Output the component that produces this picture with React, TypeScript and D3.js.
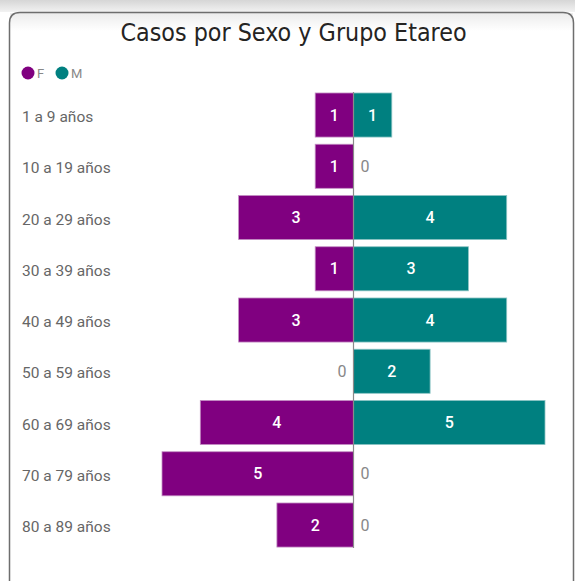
import React from "react";
import * as d3 from "d3";

const categories = [
  "1 a 9 años",
  "10 a 19 años",
  "20 a 29 años",
  "30 a 39 años",
  "40 a 49 años",
  "50 a 59 años",
  "60 a 69 años",
  "70 a 79 años",
  "80 a 89 años",
];
const femaleValues = [1, 1, 3, 1, 3, 0, 4, 5, 2];
const maleValues = [1, 0, 4, 3, 4, 2, 5, 0, 0];
const seriesNames = ["F", "M"];
const seriesColors = ["#800080", "#008080"];
const title = "Casos por Sexo y Grupo Etareo";

const W = 575;
const H = 581;
const CX = 353.5;

export default function App() {
  const x = d3.scaleLinear().domain([0, 5]).range([0, 191.5]);
  const y = d3
    .scaleBand<string>()
    .domain(categories)
    .range([89.4, 89.4 + 9 * 51.25])
    .paddingInner(0.14)
    .paddingOuter(0.07);
  const bh = y.bandwidth();
  const font = "Roboto, 'Noto Sans', sans-serif";

  return (
    <svg
      width={W}
      height={H}
      style={{ position: "absolute", left: 0, top: 0, background: "#fff" }}
    >
      <defs>
        <linearGradient id="topShade" x1="0" y1="0" x2="0" y2="1">
          <stop offset="0" stopColor="#d6d6d6" />
          <stop offset="1" stopColor="#f2f2f2" />
        </linearGradient>
        <linearGradient id="innerShade" x1="0" y1="0" x2="0" y2="1">
          <stop offset="0" stopColor="#ececec" />
          <stop offset="1" stopColor="#ffffff" />
        </linearGradient>
      </defs>
      <rect x={0} y={0} width={W} height={12} fill="url(#topShade)" />
      <rect x={10} y={13} width={W - 12} height={18} fill="url(#innerShade)" />
      <path
        d={`M9.5,${H + 2} L9.5,23 Q9.5,12.5 20,12.5 L563,12.5 Q573.5,12.5 573.5,23 L573.5,${H + 2}`}
        fill="none"
        stroke="#6e6e6e"
        strokeWidth={1.5}
      />
      <text
        x={293.5}
        y={41}
        textAnchor="middle"
        fontFamily="'DejaVu Sans Condensed', 'DejaVu Sans', sans-serif"
        fontSize={24.8}
        fill="#252423"
      >
        {title}
      </text>
      {seriesNames.map((s, i) => (
        <g key={s} transform={`translate(${i === 0 ? 28 : 62},73)`}>
          <circle cx={0} cy={0} r={6.5} fill={seriesColors[i]} />
          <text
            x={9}
            y={0}
            dominantBaseline="central"
            fontFamily={font}
            fontSize={13}
            fill="#888"
          >
            {s}
          </text>
        </g>
      ))}
      {categories.map((c, i) => {
        const yc = (y(c) as number) + bh / 2;
        const fv = femaleValues[i];
        const mv = maleValues[i];
        return (
          <g key={c}>
            <text
              x={22}
              y={yc + 2}
              dominantBaseline="central"
              fontFamily={font}
              fontSize={15.5}
              fill="#666"
            >
              {c}
            </text>
            {fv > 0 && (
              <rect
                x={CX - x(fv)}
                y={y(c)}
                width={x(fv)}
                height={bh}
                fill={seriesColors[0]}
                stroke="#c48fc4"
                strokeWidth={0.8}
              />
            )}
            {mv > 0 && (
              <rect
                x={CX}
                y={y(c)}
                width={x(mv)}
                height={bh}
                fill={seriesColors[1]}
                stroke="#8cc4c4"
                strokeWidth={0.8}
              />
            )}
            <text
              x={fv > 0 ? CX - x(fv) / 2 : CX - 7}
              y={yc}
              dominantBaseline="central"
              textAnchor={fv > 0 ? "middle" : "end"}
              fontFamily={font}
              fontWeight={fv > 0 ? 500 : 400}
              fontSize={16}
              fill={fv > 0 ? "#fff" : "#888"}
            >
              {fv}
            </text>
            <text
              x={mv > 0 ? CX + x(mv) / 2 : CX + 7}
              y={yc}
              dominantBaseline="central"
              textAnchor={mv > 0 ? "middle" : "start"}
              fontFamily={font}
              fontWeight={mv > 0 ? 500 : 400}
              fontSize={16}
              fill={mv > 0 ? "#fff" : "#888"}
            >
              {mv}
            </text>
          </g>
        );
      })}
      <line
        x1={CX}
        x2={CX}
        y1={(y(categories[0]) as number) - 1}
        y2={(y(categories[8]) as number) + bh + 1}
        stroke="#8a8a8a"
        strokeWidth={1.2}
      />
    </svg>
  );
}
